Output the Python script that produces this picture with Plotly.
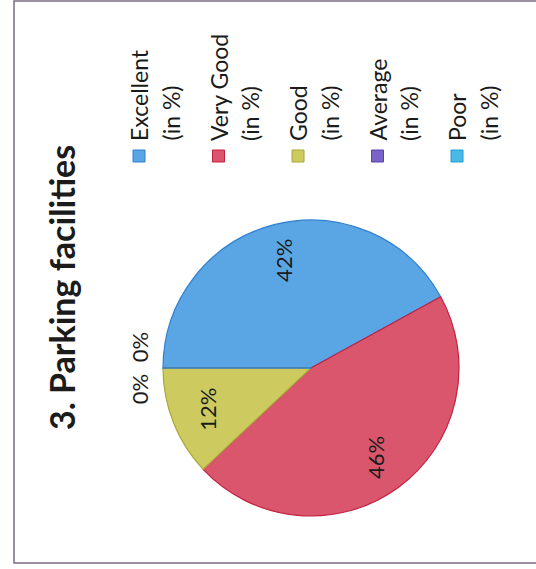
import math
import plotly.graph_objects as go

W, H = 536, 569

title = "3. Parking facilities"
categories = ["Excellent", "Very Good", "Good", "Average", "Poor"]
unit_line = "(in %)"
values = [42, 46, 12, 0, 0]
fills = ["#5aa6e4", "#d9566d", "#cdcb60", "#7b62c9", "#4ab9e8"]
edges = ["#2f7fd0", "#c42040", "#a9a63a", "#5a3fb0", "#1f9ad6"]

FONT = "Lato, 'Open Sans', sans-serif"
TXT = "#1b1b1b"

# pie geometry (pixels)
cx, cy, R = 311, 368, 148
rotation = 270  # first slice starts at 9 o'clock (chart is rotated)

def px(x):
    return x / W

def py(y):
    return 1 - y / H

fig = go.Figure()
fig.add_trace(go.Pie(
    labels=categories,
    values=values,
    sort=False,
    direction="clockwise",
    rotation=rotation,
    textinfo="none",
    hoverinfo="label+percent",
    marker=dict(colors=fills, line=dict(color=edges, width=1.2)),
    domain=dict(x=[px(cx - R), px(cx + R)], y=[py(cy + R), py(cy - R)]),
    showlegend=False,
))

annotations = []
shapes = []

# frame
shapes.append(dict(type="rect", xref="paper", yref="paper",
                   x0=px(14), x1=px(545), y0=py(563), y1=py(1),
                   line=dict(color="#7d6a82", width=1.5), fillcolor="rgba(0,0,0,0)"))

# title (rotated)
annotations.append(dict(text="<b>" + title + "</b>", x=px(61), y=py(288),
                        xref="paper", yref="paper", showarrow=False, textangle=-90,
                        xanchor="center", yanchor="middle",
                        font=dict(family=FONT, size=34, color=TXT)))

# slice percentage labels, placed from the data
total = sum(values)
cum = 0
zero_idx = 0
for v in values:
    mid = (cum + v / 2) / total
    ang = math.radians(rotation + 360 * mid)
    cum += v
    if v > 0:
        f = 0.75
        lx = cx + R * f * math.sin(ang)
        ly = cy - R * f * math.cos(ang)
    else:
        f = 1.16
        lx = cx + R * f * math.sin(ang)
        ly = cy - R * f * math.cos(ang) + (-21 if zero_idx == 0 else 21)
        zero_idx += 1
    annotations.append(dict(text=f"{round(100 * v / total)}%", x=px(lx), y=py(ly),
                            xref="paper", yref="paper", showarrow=False, textangle=-90,
                            xanchor="center", yanchor="middle",
                            font=dict(family=FONT, size=22, color=TXT)))

# legend (rotated)
leg_x0, leg_dx = 139, 79.5
mark_y, mark_s = 156, 12
text_bottom = 143
for i, (cat, fc, ec) in enumerate(zip(categories, fills, edges)):
    x = leg_x0 + i * leg_dx
    shapes.append(dict(type="rect", xref="paper", yref="paper",
                       x0=px(x - mark_s / 2), x1=px(x + mark_s / 2),
                       y0=py(mark_y + mark_s / 2), y1=py(mark_y - mark_s / 2),
                       line=dict(color=ec, width=1), fillcolor=fc))
    annotations.append(dict(text=cat, x=px(x), y=py(text_bottom),
                            xref="paper", yref="paper", showarrow=False, textangle=-90,
                            xanchor="center", yanchor="bottom",
                            font=dict(family=FONT, size=23, color=TXT)))
    annotations.append(dict(text=unit_line, x=px(x + 31), y=py(text_bottom),
                            xref="paper", yref="paper", showarrow=False, textangle=-90,
                            xanchor="center", yanchor="bottom",
                            font=dict(family=FONT, size=23, color=TXT)))

fig.update_layout(width=W, height=H, margin=dict(l=0, r=0, t=0, b=0),
                  paper_bgcolor="white", plot_bgcolor="white",
                  annotations=annotations, shapes=shapes)

fig.write_html("out.html", config={"displayModeBar": False},
               post_script="document.body.style.margin='0';")
